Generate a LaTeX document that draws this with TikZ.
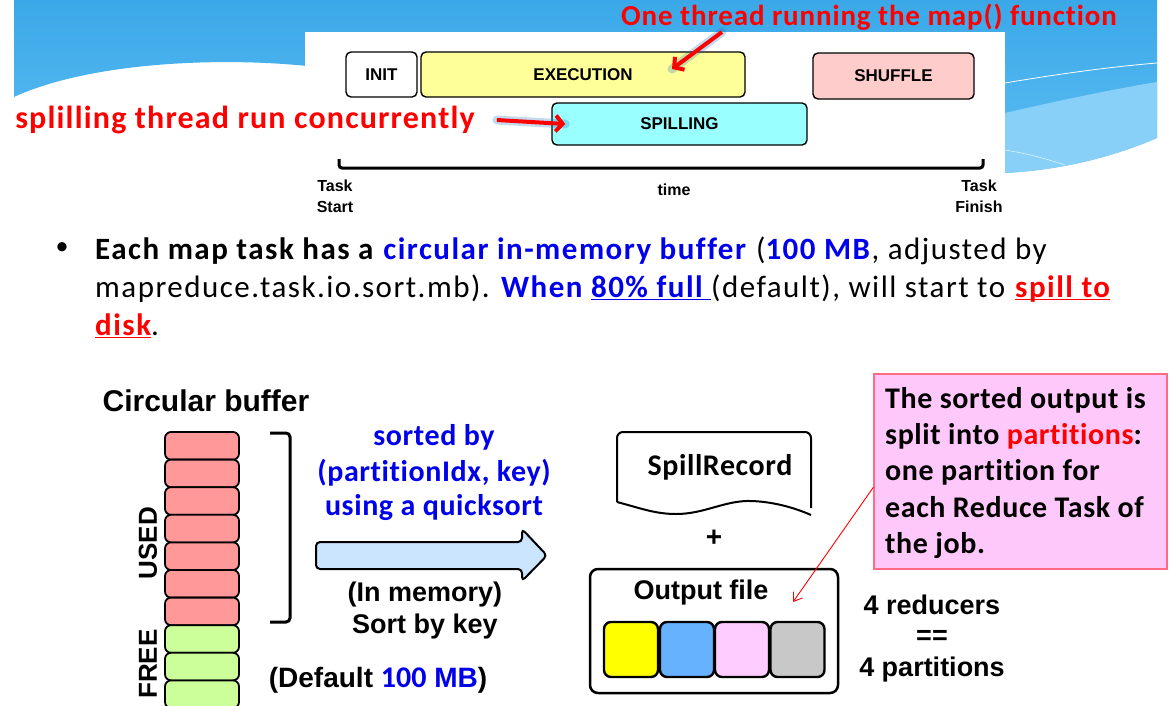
\documentclass[tikz,border=0pt]{standalone}
\usepackage{fontspec}
\setmainfont{Carlito}
\newfontfamily\calib{Carlito}[Ligatures=NoCommon]
\newfontfamily\ari{Liberation Sans}
\usetikzlibrary{arrows.meta,calc}
\definecolor{skytop}{HTML}{3AA8E8}
\definecolor{skybot}{HTML}{5EBEF3}
\definecolor{skylight}{HTML}{88D0F8}
\definecolor{txtblue}{RGB}{0,0,235}
\definecolor{txtred}{RGB}{255,0,0}
\definecolor{usedred}{HTML}{FF9999}
\definecolor{freegreen}{HTML}{CCFF99}
\definecolor{execyellow}{HTML}{FFFF99}
\definecolor{spillcyan}{HTML}{99FFFF}
\definecolor{shufpink}{HTML}{FFCCCC}
\definecolor{arrowblue}{HTML}{CCE5FF}
\definecolor{notepink}{HTML}{FFC8FA}
\definecolor{noteborder}{HTML}{FF6A86}
\definecolor{partyellow}{HTML}{FFFF00}
\definecolor{partblue}{HTML}{66B2FF}
\definecolor{partpink}{HTML}{FFCCFF}
\definecolor{partgray}{HTML}{C8C8C8}
\newcommand{\ls}[1]{\addfontfeature{LetterSpace=#1}}
\newcommand{\redul}[1]{\textcolor{txtred}{\rlap{\rule[-3pt]{\widthof{#1}}{1.5pt}}#1}}
\newcommand{\blueul}[1]{\textcolor{txtblue}{\rlap{\rule[-3pt]{\widthof{#1}}{1.5pt}}#1}}
\usepackage{calc}
\begin{document}
\begin{tikzpicture}[x=1pt,y=-1pt,
  tbox/.style={draw, line width=1.4pt, rounded corners=5pt, inner sep=0pt,
    font=\ari\bfseries\fontsize{17}{19}\selectfont},
  tlabel/.style={font=\ari\bfseries\fontsize{16}{18}\selectfont, inner sep=0pt},
  redbig/.style={text=txtred, inner sep=0pt, font=\calib\bfseries\fontsize{29}{32}\selectfont\ls{3}},
  bullettext/.style={anchor=base west, inner sep=0pt, font=\calib\fontsize{31}{34}\selectfont\ls{4.8}},
  cell/.style={draw, line width=1.8pt, rounded corners=6pt, minimum width=74pt, minimum height=27.6pt, inner sep=0pt},
  arialbig/.style={font=\ari\bfseries\fontsize{27}{30}\selectfont, inner sep=0pt},
  bluebig/.style={text=txtblue, font=\calib\bfseries\fontsize{30}{32}\selectfont\ls{2}, inner sep=0pt},
  notetext/.style={anchor=base west, inner sep=0pt, font=\calib\bfseries\fontsize{30}{32}\selectfont\ls{2}},
  part/.style={draw, line width=2.4pt, rounded corners=7pt, minimum width=54pt, minimum height=55pt, inner sep=0pt},
  thickred/.style={draw=txtred, line width=4pt, -{Straight Barb[length=7pt,width=16pt,line width=4pt]}},
  glow/.style={draw=cyan!50!blue, opacity=0.25, line width=9pt, line cap=round}
]
\useasboundingbox (0,0) rectangle (1169,705);
\fill[white] (0,0) rectangle (1169,705);
% sky background
\shade[top color=skytop, bottom color=skybot]
  (14,0) -- (1157,0) -- (1157,138) .. controls (1110,158) and (1060,170) .. (1005,173)
  -- (1005,60) -- (307,60) -- (307,66) .. controls (220,57) and (90,62) .. (14,97) -- cycle;
\fill[skylight] (1005,113) .. controls (1070,98) and (1120,88) .. (1157,82)
  -- (1157,138) .. controls (1110,158) and (1060,170) .. (1005,173) -- cycle;
\draw[white, line width=0.8pt] (1005,83) .. controls (1070,72) and (1120,66) .. (1157,63);
\draw[white!70!skylight, line width=0.6pt] (1005,150) .. controls (1030,154) and (1050,160) .. (1065,165);
% white panel
\fill[white] (305,32) rectangle (1005,232);

% timeline boxes
\node[tbox, minimum width=71pt, minimum height=45pt] (init) at (381.5,74.5) {INIT};
\node[tbox, fill=execyellow, minimum width=324pt, minimum height=45pt] (exec) at (583,74.5) {EXECUTION};
\node[tbox, fill=shufpink, minimum width=161pt, minimum height=46pt] (shuffle) at (893.5,76) {SHUFFLE};
\node[tbox, fill=spillcyan, minimum width=255pt, minimum height=42pt] (spill) at (679.5,124) {SPILLING};
\draw[line width=3pt, rounded corners=3pt] (339,159) -- (339,168) -- (983,168) -- (983,159);
\node[tlabel] (ts1) at (335,186) {Task};
\node[tlabel] (ts2) at (335,207) {Start};
\node[tlabel] (time) at (674,190) {time};
\node[tlabel] (tf1) at (979,186) {Task};
\node[tlabel] (tf2) at (979,207) {Finish};

% red annotations
\node[redbig] (thread) at (869,17) {One thread running the map() function};
\node[redbig, font=\calib\bfseries\fontsize{32}{34}\selectfont\ls{3.7}] (spilltxt) at (245,120) {splilling thread run concurrently};
\coordinate (execpt) at (672,69);
\coordinate (threadstart) at (722,32);
\draw[glow] (threadstart) -- (execpt);
\draw[thickred] (threadstart) -- (execpt);
\draw[glow] ([xshift=22pt]spilltxt.east) -- ([xshift=14pt]spill.west);
\draw[thickred] ([xshift=22pt]spilltxt.east) -- ([xshift=14pt]spill.west);

% bullet text
\node[inner sep=0pt, font=\calib\fontsize{26}{30}\selectfont] (bul) at (62,249) {•};
\node[bullettext] (l1) at (95,259) {\textbf{Each map task has a} \textcolor{txtblue}{\textbf{circular in-memory buffer}} (\textcolor{txtblue}{\textbf{100 MB}}, adjusted by};
\node[bullettext] (l2) at (95,297) {mapreduce.task.io.sort.mb). \textcolor{txtblue}{\textbf{When \blueul{80\% full }}}(default), will start to \textbf{\redul{spill to}}};
\node[bullettext] (l3) at (95,335) {\textbf{\redul{disk}}.};

% circular buffer
\node[arialbig, font=\ari\bfseries\fontsize{30}{32}\selectfont] (cbtitle) at (206,401) {Circular buffer};
\foreach \i in {0,...,6} {
  \node[cell, fill=usedred] (c\i) at (202,{432+27.6*\i+13.8}) {};
}
\foreach \i in {7,8,9} {
  \node[cell, fill=freegreen] (c\i) at (202,{432+27.6*\i+13.8}) {};
}
\node[arialbig, font=\ari\bfseries\fontsize{26}{30}\selectfont, rotate=90] (used) at (148,543) {USED};
\node[arialbig, font=\ari\bfseries\fontsize{26}{30}\selectfont, rotate=90] (free) at (148,664) {FREE};
\draw[line width=3pt, rounded corners=4pt] (270,433) -- (290,433) -- (290,622) -- (270,622);

% sort arrow and labels
\node[bluebig] (sb1) at (434,437) {sorted by};
\node[bluebig] (sb2) at (434,473) {(partitionIdx, key)};
\node[bluebig] (sb3) at (434,508) {using a quicksort};
\draw[line width=2pt, fill=arrowblue, rounded corners=4pt]
  (316,542) -- (522,542) -- (522,529) -- (547,555.5) -- (522,581) -- (522,569) -- (316,569) -- cycle;
\node[arialbig] (inmem) at (425,595) {(In memory)};
\node[arialbig] (sortkey) at (425,627) {Sort by key};
\node[arialbig, font=\ari\bfseries\fontsize{28}{30}\selectfont] (default) at (378,680) {(Default \textcolor{txtblue}{{\calib\fontsize{30}{30}\selectfont 100} MB})};

% spill record document
\draw[line width=2pt, fill=white, rounded corners=6pt]
  (617,502) -- (617,432) -- (811,432) -- (811,508);
\draw[line width=2pt, fill=white]
  (617,502) .. controls (640,508) and (655,514) .. (676,514) .. controls (705,514) and (725,500) .. (752,501)
  .. controls (775,502) and (795,508) .. (811,515);
\node[font=\calib\bfseries\fontsize{30}{32}\selectfont\ls{2}, inner sep=0pt] (spillrec) at (720,467) {SpillRecord};
\node[arialbig, font=\ari\bfseries\fontsize{28}{30}\selectfont] (plus) at (714,538) {+};

% output file
\node[draw, line width=2.5pt, rounded corners=8pt, minimum width=248pt, minimum height=124pt, inner sep=0pt] (outfile) at (714,631) {};
\node[arialbig] (outlabel) at (701,593) {Output file};
\node[part, fill=partyellow] (p1) at (631,649.5) {};
\node[part, fill=partblue] (p2) at (687,649.5) {};
\node[part, fill=partpink] (p3) at (742,649.5) {};
\node[part, fill=partgray] (p4) at (797.5,649.5) {};

% note
\node[draw=noteborder, line width=1.2pt, fill=notepink, minimum width=293pt, minimum height=195pt, inner sep=0pt] (note) at (1020.5,471.5) {};
\node[notetext] (n1) at (885,408) {The sorted output is};
\node[notetext] (n2) at (885,444) {split into \textcolor{txtred}{partitions}:};
\node[notetext] (n3) at (885,480) {one partition for};
\node[notetext] (n4) at (885,517) {each Reduce Task of};
\node[notetext] (n5) at (885,553) {the job.};
\coordinate (notetip) at (793,602);
\draw[txtred, line width=0.9pt, -{Straight Barb[length=8pt,width=11pt]}] ($(note.north west)!0.58!(note.south west)$) -- (notetip);

% reducers
\node[arialbig] (red1) at (932,605) {4 reducers};
\node[arialbig] (red2) at (932,637) {==};
\node[arialbig] (red3) at (932,670) {4 partitions};
\end{tikzpicture}
\end{document}
